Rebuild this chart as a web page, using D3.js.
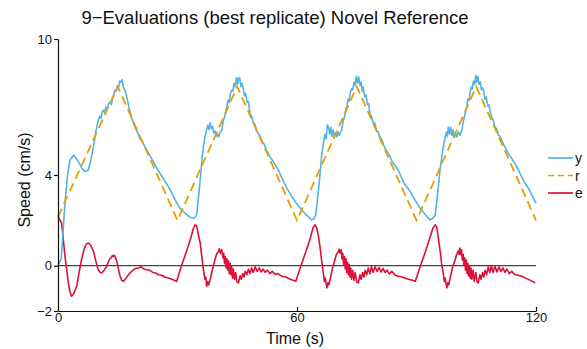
<!DOCTYPE html>
<html>
<head>
<meta charset="utf-8">
<script src="https://cdn.jsdelivr.net/npm/d3@7"></script>
<style>
  body { margin: 0; background: #fff; }
  text { font-family: "Liberation Sans", Arial, sans-serif; fill: #111; }
</style>
</head>
<body>
<script>
// chart values

const xTicks = [0, 60, 120];
const yTicks = [-2, 0, 4, 10];

const legendNames = ["y", "r", "e"];

// reference r (triangle wave vertices)
const rData = [[0,2.15],[15,7.9],[30,2.0],[45,7.9],[60,2.0],[75,7.9],[90,2.0],[105,7.9],[120,2.0]];

// output y
const yData = [
  [0,0],[0.8,0.3],[1.75,2.75],[2.4,4.0],[3.0,4.66],[4.0,4.88],[5.1,4.59],[6.0,4.3],[6.8,4.15],[7.6,4.22],
  [8.3,4.7],[8.9,5.25],[9.5,5.9],[10.1,6.42],[10.5,6.6],[10.8,6.5],[11.1,6.8],[11.4,6.86],[11.7,6.75],[12.0,7.0],
  [12.4,6.95],[12.7,7.15],[13.1,7.22],[13.4,7.1],[13.7,7.4],[14.0,7.55],[14.3,7.74],[14.6,7.7],[14.9,7.95],[15.2,7.85],
  [15.5,8.15],[15.8,8.1],[16.1,8.2],[16.4,7.9],[16.8,7.74],[17.2,7.5],[17.8,7.0],[18.5,6.5],[19.3,6.12],[20.0,5.85],
  [20.6,5.6],[21.2,5.45],[21.8,5.25],[22.6,5.0],[23.5,4.72],[24.4,4.44],[25.5,4.1],[26.6,3.8],[27.7,3.49],[28.6,3.2],
  [29.4,2.9],[30.6,2.54],[31.9,2.31],[33.0,2.15],[34.0,2.09],[34.5,2.15],[34.8,2.24],[35.2,2.9],[35.7,3.78],[36.1,4.6],
  [36.5,5.25],[36.9,5.7],[37.3,5.98],[37.6,6.2],[37.9,6.0],[38.2,6.3],[38.5,6.05],[38.8,6.15],[39.1,5.85],[39.4,5.95],
  [39.7,5.7],[40.0,5.8],[40.3,5.68],[40.7,5.9],[41.1,5.98],[41.5,6.4],[41.9,6.6],[42.2,6.9],[42.4,7.0],[42.7,7.3],
  [43.0,7.2],[43.3,7.6],[43.6,7.74],[43.9,7.7],[44.2,8.05],[44.5,7.9],[44.8,8.3],[45.1,8.0],[45.3,8.25],[45.6,8.3],
  [45.9,7.9],[46.2,8.05],[46.5,7.81],[46.8,7.5],[47.1,7.6],[47.5,7.2],[47.8,7.25],[48.2,6.71],[48.6,6.6],[49.0,6.3],
  [49.4,6.25],[49.8,5.95],[50.3,5.83],[50.8,5.7],[51.3,5.45],[51.8,5.35],[52.3,5.1],[52.8,4.95],[53.4,4.75],[54.0,4.6],
  [54.7,4.4],[55.3,4.22],[56.0,3.95],[56.8,3.65],[57.5,3.4],[58.2,3.2],[59.5,2.83],[60.8,2.54],[62.3,2.25],[63.7,2.02],
  [64.3,2.08],[64.7,2.24],[65.2,3.0],[65.8,4.07],[66.2,4.9],[66.6,5.39],[67.0,5.8],[67.3,5.6],[67.6,6.2],[67.9,6.12],
  [68.2,5.8],[68.5,6.1],[68.8,5.7],[69.1,6.0],[69.4,5.65],[69.7,5.85],[70.0,5.68],[70.3,5.9],[70.6,5.75],[71.2,5.98],
  [71.6,6.4],[72.0,6.6],[72.3,6.95],[72.5,7.0],[72.8,7.35],[73.1,7.25],[73.4,7.65],[73.7,7.81],[74.0,7.75],[74.3,8.1],
  [74.6,7.95],[74.9,8.35],[75.2,8.05],[75.5,8.32],[75.8,7.95],[76.1,8.1],[76.4,7.7],[76.6,7.88],[77.0,7.45],[77.3,7.55],
  [77.7,7.1],[78.0,7.15],[78.3,6.71],[78.7,6.6],[79.1,6.3],[79.5,6.3],[80.0,5.95],[80.4,5.9],[80.8,5.68],[81.3,5.55],
  [81.8,5.3],[82.4,5.1],[82.9,4.95],[83.4,4.8],[84.0,4.55],[84.7,4.4],[85.4,4.22],[86.2,3.9],[87.0,3.6],[87.7,3.45],
  [88.4,3.27],[89.6,2.9],[90.9,2.54],[92.2,2.25],[93.4,2.02],[94.0,2.08],[94.7,2.24],[95.2,3.0],[95.9,4.22],[96.5,5.0],
  [97.2,5.68],[97.5,5.9],[97.7,5.7],[98.0,6.12],[98.3,5.8],[98.6,6.1],[98.9,5.75],[99.2,6.0],[99.5,5.65],[99.8,5.85],
  [100.1,5.68],[100.5,5.9],[100.9,5.75],[101.4,5.98],[101.8,6.4],[102.2,6.7],[102.6,7.0],[102.9,7.35],[103.2,7.3],[103.5,7.7],
  [103.7,7.88],[104.0,7.8],[104.3,8.15],[104.6,8.0],[104.9,8.4],[105.1,8.1],[105.4,8.35],[105.7,8.0],[106.0,8.1],[106.3,7.75],
  [106.6,7.85],[106.8,7.74],[107.2,7.35],[107.5,7.45],[107.9,7.05],[108.2,7.1],[108.6,6.7],[108.9,6.56],[109.3,6.4],[109.7,6.1],
  [110.1,6.05],[110.6,5.75],[111.0,5.7],[111.4,5.54],[112.0,5.3],[112.6,5.1],[113.2,4.9],[113.9,4.73],[114.7,4.5],[115.6,4.22],
  [116.3,3.95],[117.2,3.65],[118.1,3.42],[119.0,3.1],[120,2.76]
];

// error e
const eData = [
  [0,2.17],[0.9,1.88],[1.3,1.2],[1.76,0.41],[2.2,-0.2],[2.6,-0.76],[3.0,-1.15],[3.4,-1.35],[3.9,-1.25],[4.7,-0.91],
  [5.3,-0.3],[5.9,0.26],[6.6,0.75],[7.1,0.95],[7.6,1.0],[8.2,0.9],[8.9,0.63],[9.5,0.2],[10.1,-0.18],[10.6,-0.3],
  [11.0,-0.32],[11.6,-0.2],[12.2,-0.03],[12.6,0.15],[13.0,0.3],[13.4,0.35],[13.7,0.45],[13.9,0.41],[14.2,0.45],[14.5,0.3],
  [14.7,0.26],[15.1,-0.1],[15.6,-0.47],[16.0,-0.65],[16.4,-0.69],[16.9,-0.6],[17.5,-0.45],[18.1,-0.32],[18.8,-0.2],[19.5,-0.12],
  [20.2,-0.1],[20.9,-0.05],[21.6,-0.15],[22.3,-0.18],[23.0,-0.2],[23.8,-0.3],[24.5,-0.32],[25.2,-0.4],[26.0,-0.42],[26.8,-0.5],
  [27.7,-0.54],[28.6,-0.6],[29.8,-0.69],
  [31.0,0.0],[32.2,0.6],[33.3,1.2],[34.0,1.65],[34.4,1.8],[34.8,1.75],[35.2,1.4],[35.7,1.0],[36.1,0.4],[36.5,-0.18],
  [36.9,-0.6],[37.1,-0.5],[37.3,-0.91],[37.6,-0.7],[37.8,-0.85],[38.2,-0.62],[38.6,-0.3],[39.0,0.0],[39.4,0.26],[39.8,0.5],
  [40.2,0.6],[40.5,0.75],[40.8,0.55],[41.1,0.7],[41.4,0.35],[41.6,0.55],[41.8,0.1],[42.0,0.4],[42.2,-0.1],[42.4,0.3],
  [42.6,-0.2],[42.8,0.2],[43.0,-0.35],[43.2,0.1],[43.4,-0.4],[43.6,-0.05],[43.8,-0.55],[44.0,-0.15],[44.3,-0.6],[44.6,-0.3],
  [44.9,-0.7],[45.3,-0.76],[45.7,-0.45],[46.0,-0.6],[46.4,-0.35],[46.7,-0.5],[47.0,-0.25],[47.4,-0.4],[47.8,-0.15],[48.2,-0.35],
  [48.6,-0.1],[49.0,-0.3],[49.5,-0.05],[50.0,-0.25],[50.5,-0.1],[51.0,-0.28],[51.5,-0.15],[52.0,-0.3],[52.6,-0.2],[53.2,-0.35],
  [53.8,-0.25],[54.5,-0.38],[55.2,-0.35],[56.2,-0.47],[57.2,-0.5],[58.3,-0.6],[59.7,-0.69],
  [61.0,0.0],[62.2,0.6],[63.3,1.2],[64.0,1.65],[64.5,1.8],[64.9,1.7],[65.4,1.29],[65.8,0.8],[66.2,0.2],[66.6,-0.32],
  [66.9,-0.7],[67.1,-0.55],[67.5,-0.98],[67.8,-0.75],[68.0,-0.85],[68.3,-0.62],[68.8,-0.2],[69.1,0.0],[69.5,0.26],[69.9,0.5],
  [70.3,0.6],[70.6,0.72],[70.8,0.55],[71.1,0.7],[71.3,0.3],[71.5,0.55],[71.7,0.05],[71.9,0.4],[72.1,-0.15],[72.3,0.3],
  [72.5,-0.3],[72.7,0.15],[72.9,-0.4],[73.1,0.05],[73.3,-0.5],[73.5,-0.1],[73.7,-0.6],[74.0,-0.2],[74.3,-0.65],[74.6,-0.3],
  [75.0,-0.72],[75.4,-0.76],[75.8,-0.4],[76.1,-0.6],[76.5,-0.3],[76.8,-0.5],[77.1,-0.2],[77.5,-0.4],[77.9,-0.1],[78.3,-0.35],
  [78.7,-0.05],[79.1,-0.3],[79.6,-0.05],[80.1,-0.25],[80.6,-0.08],[81.1,-0.28],[81.6,-0.12],[82.1,-0.3],[82.6,-0.2],[83.2,-0.36],
  [83.8,-0.25],[84.5,-0.4],[85.4,-0.47],[86.4,-0.5],[87.5,-0.58],[88.5,-0.62],[89.7,-0.69],
  [91.0,0.0],[92.2,0.6],[93.3,1.2],[94.1,1.65],[94.7,1.8],[95.1,1.7],[95.5,1.2],[95.9,0.7],[96.3,0.1],[96.7,-0.32],
  [97.0,-0.7],[97.2,-0.55],[97.6,-0.98],[97.9,-0.75],[98.1,-0.85],[98.5,-0.5],[99.0,-0.1],[99.3,0.05],[99.7,0.26],[100.1,0.5],
  [100.5,0.65],[100.7,0.5],[100.9,0.78],[101.1,0.5],[101.3,0.7],[101.5,0.25],[101.7,0.5],[101.9,0.0],[102.1,0.35],[102.3,-0.2],
  [102.5,0.25],[102.7,-0.35],[102.9,0.1],[103.1,-0.45],[103.3,0.0],[103.5,-0.55],[103.7,-0.1],[103.9,-0.6],[104.2,-0.2],[104.5,-0.7],
  [104.9,-0.3],[105.2,-0.72],[105.5,-0.76],[105.9,-0.4],[106.2,-0.6],[106.6,-0.3],[106.9,-0.5],[107.2,-0.2],[107.6,-0.4],[108.0,-0.05],
  [108.4,-0.3],[108.8,0.0],[109.2,-0.3],[109.7,-0.03],[110.2,-0.28],[110.7,-0.05],[111.2,-0.25],[111.7,-0.1],[112.2,-0.3],[112.7,-0.15],
  [113.3,-0.35],[113.9,-0.25],[114.7,-0.4],[115.5,-0.42],[116.4,-0.47],[117.4,-0.55],[118.6,-0.65],[119.8,-0.76]
];

const w = 587;
const h = 349;
const padLeft = 58, padRight = 536, padTop = 39, padBottom = 311;

const colY = "#52b3e6";
const colR = "#e69f00";
const colE = "#dd1038";

const xScale = d3.scaleLinear().domain([0, 120]).range([padLeft, padRight]);
const yScale = d3.scaleLinear().domain([-2, 10]).range([padBottom, padTop]);

const svg = d3.select("body")
  .append("svg")
  .attr("width", w)
  .attr("height", h);

// zero line
svg.append("line")
  .attr("x1", xScale(0)).attr("x2", xScale(120))
  .attr("y1", yScale(0)).attr("y2", yScale(0))
  .attr("stroke", "#444")
  .attr("stroke-width", 1.3);

const line = d3.line()
  .x(d => xScale(d[0]))
  .y(d => yScale(d[1]));

svg.append("path")
  .datum(eData)
  .attr("d", line)
  .attr("fill", "none")
  .attr("stroke", colE)
  .attr("stroke-width", 1.6)
  .attr("stroke-linejoin", "round");

svg.append("path")
  .datum(yData)
  .attr("d", line)
  .attr("fill", "none")
  .attr("stroke", colY)
  .attr("stroke-width", 1.6)
  .attr("stroke-linejoin", "round");

svg.append("path")
  .datum(rData)
  .attr("d", line)
  .attr("fill", "none")
  .attr("stroke", colR)
  .attr("stroke-width", 1.8)
  .attr("stroke-dasharray", "9,5");

// axes
const xAxis = d3.axisBottom(xScale).tickValues(xTicks).tickSizeInner(-4).tickSizeOuter(0).tickPadding(3);
const yAxis = d3.axisLeft(yScale).tickValues(yTicks).tickSizeInner(4).tickSizeOuter(0).tickPadding(2);

const gx = svg.append("g")
  .attr("transform", "translate(0," + padBottom + ")")
  .call(xAxis);

const gy = svg.append("g")
  .attr("transform", "translate(" + padLeft + ",0)")
  .call(yAxis);

[gx, gy].forEach(g => {
  g.selectAll("path, line").attr("stroke", "#111").attr("stroke-width", 1.2);
  g.selectAll("text").style("font-family", "Liberation Sans, Arial, sans-serif").style("font-size", "13px").attr("fill", "#111");
});
gx.selectAll("text").attr("dy", "0.6em");

// title and labels
svg.append("text")
  .attr("x", 275).attr("y", 24)
  .attr("text-anchor", "middle")
  .style("font-size", "18.5px")
  .text("9−Evaluations (best replicate) Novel Reference");

svg.append("text")
  .attr("x", 295).attr("y", 344)
  .attr("text-anchor", "middle")
  .style("font-size", "16px")
  .text("Time (s)");

svg.append("text")
  .attr("transform", "translate(30,180) rotate(-90)")
  .attr("text-anchor", "middle")
  .style("font-size", "16px")
  .text("Speed (cm/s)");

// legend
const legendCols = [colY, colR, colE];
const legendDash = [null, "6,4", null];
const lg = svg.append("g").selectAll("g")
  .data(legendNames)
  .enter()
  .append("g")
  .attr("transform", (d, i) => "translate(548," + (158 + i * 17.5) + ")");

lg.append("line")
  .attr("x1", 0).attr("x2", 25)
  .attr("stroke", (d, i) => legendCols[i])
  .attr("stroke-width", 1.7)
  .attr("stroke-dasharray", (d, i) => legendDash[i]);

lg.append("text")
  .attr("x", 27).attr("y", 5)
  .style("font-size", "14px")
  .text(d => d);
</script>
</body>
</html>
